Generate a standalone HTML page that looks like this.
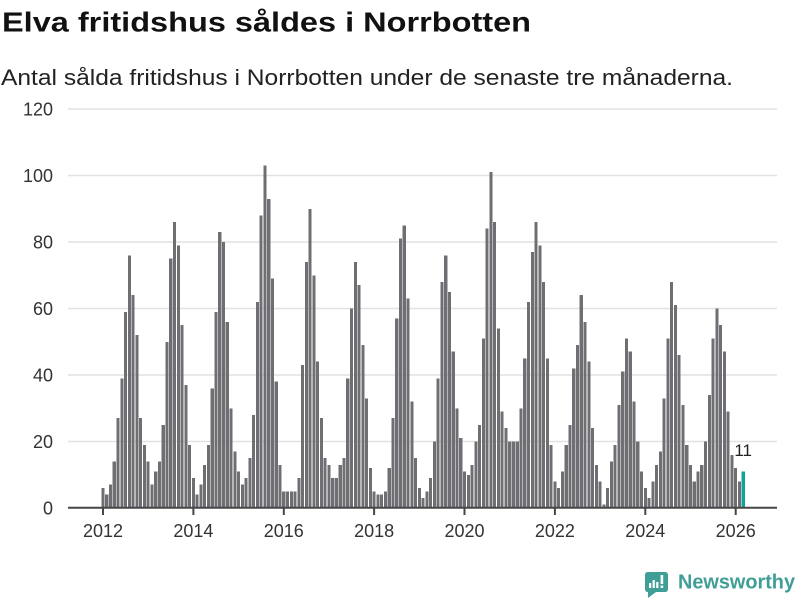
<!DOCTYPE html>
<html>
<head>
<meta charset="utf-8">
<style>
html,body{margin:0;padding:0;background:#fff;}
svg{display:block;}
text{font-family:"Liberation Sans",sans-serif;}
</style>
</head>
<body>
<svg width="800" height="600" viewBox="0 0 800 600" xmlns="http://www.w3.org/2000/svg">
<rect width="800" height="600" fill="#fff"/>
<text x="2" y="31.5" font-size="28" font-weight="bold" fill="#111" textLength="529" lengthAdjust="spacingAndGlyphs">Elva fritidshus såldes i Norrbotten</text>
<text x="1" y="85" font-size="22" fill="#222" textLength="732" lengthAdjust="spacingAndGlyphs">Antal sålda fritidshus i Norrbotten under de senaste tre månaderna.</text>

<!-- gridlines -->
<g stroke="#e2e2e2" stroke-width="1.6">
<line x1="68" x2="777" y1="109" y2="109"/>
<line x1="68" x2="777" y1="175.5" y2="175.5"/>
<line x1="68" x2="777" y1="242" y2="242"/>
<line x1="68" x2="777" y1="308.5" y2="308.5"/>
<line x1="68" x2="777" y1="375" y2="375"/>
<line x1="68" x2="777" y1="441.5" y2="441.5"/>
</g>
<g font-size="18" fill="#333" text-anchor="end">
<text x="53" y="115.5">120</text>
<text x="53" y="182">100</text>
<text x="53" y="248.5">80</text>
<text x="53" y="315">60</text>
<text x="53" y="381.5">40</text>
<text x="53" y="448">20</text>
<text x="53" y="514.5">0</text>
</g>

<!-- bars -->
<g transform="translate(101.45,508) scale(3.766,-3.325)" fill="#6f6e73" shape-rendering="crispEdges">
<rect x="0" width="0.823" height="6"/><rect x="1" width="0.823" height="4"/><rect x="2" width="0.823" height="7"/><rect x="3" width="0.823" height="14"/><rect x="4" width="0.823" height="27"/><rect x="5" width="0.823" height="39"/><rect x="6" width="0.823" height="59"/><rect x="7" width="0.823" height="76"/><rect x="8" width="0.823" height="64"/><rect x="9" width="0.823" height="52"/><rect x="10" width="0.823" height="27"/><rect x="11" width="0.823" height="19"/>
<rect x="12" width="0.823" height="14"/><rect x="13" width="0.823" height="7"/><rect x="14" width="0.823" height="11"/><rect x="15" width="0.823" height="14"/><rect x="16" width="0.823" height="25"/><rect x="17" width="0.823" height="50"/><rect x="18" width="0.823" height="75"/><rect x="19" width="0.823" height="86"/><rect x="20" width="0.823" height="79"/><rect x="21" width="0.823" height="55"/><rect x="22" width="0.823" height="37"/><rect x="23" width="0.823" height="19"/>
<rect x="24" width="0.823" height="9"/><rect x="25" width="0.823" height="4"/><rect x="26" width="0.823" height="7"/><rect x="27" width="0.823" height="13"/><rect x="28" width="0.823" height="19"/><rect x="29" width="0.823" height="36"/><rect x="30" width="0.823" height="59"/><rect x="31" width="0.823" height="83"/><rect x="32" width="0.823" height="80"/><rect x="33" width="0.823" height="56"/><rect x="34" width="0.823" height="30"/><rect x="35" width="0.823" height="17"/>
<rect x="36" width="0.823" height="11"/><rect x="37" width="0.823" height="7"/><rect x="38" width="0.823" height="9"/><rect x="39" width="0.823" height="15"/><rect x="40" width="0.823" height="28"/><rect x="41" width="0.823" height="62"/><rect x="42" width="0.823" height="88"/><rect x="43" width="0.823" height="103"/><rect x="44" width="0.823" height="93"/><rect x="45" width="0.823" height="69"/><rect x="46" width="0.823" height="38"/><rect x="47" width="0.823" height="13"/>
<rect x="48" width="0.823" height="5"/><rect x="49" width="0.823" height="5"/><rect x="50" width="0.823" height="5"/><rect x="51" width="0.823" height="5"/><rect x="52" width="0.823" height="9"/><rect x="53" width="0.823" height="43"/><rect x="54" width="0.823" height="74"/><rect x="55" width="0.823" height="90"/><rect x="56" width="0.823" height="70"/><rect x="57" width="0.823" height="44"/><rect x="58" width="0.823" height="27"/><rect x="59" width="0.823" height="15"/>
<rect x="60" width="0.823" height="13"/><rect x="61" width="0.823" height="9"/><rect x="62" width="0.823" height="9"/><rect x="63" width="0.823" height="13"/><rect x="64" width="0.823" height="15"/><rect x="65" width="0.823" height="39"/><rect x="66" width="0.823" height="60"/><rect x="67" width="0.823" height="74"/><rect x="68" width="0.823" height="67"/><rect x="69" width="0.823" height="49"/><rect x="70" width="0.823" height="33"/><rect x="71" width="0.823" height="12"/>
<rect x="72" width="0.823" height="5"/><rect x="73" width="0.823" height="4"/><rect x="74" width="0.823" height="4"/><rect x="75" width="0.823" height="5"/><rect x="76" width="0.823" height="12"/><rect x="77" width="0.823" height="27"/><rect x="78" width="0.823" height="57"/><rect x="79" width="0.823" height="81"/><rect x="80" width="0.823" height="85"/><rect x="81" width="0.823" height="63"/><rect x="82" width="0.823" height="32"/><rect x="83" width="0.823" height="15"/>
<rect x="84" width="0.823" height="6"/><rect x="85" width="0.823" height="3"/><rect x="86" width="0.823" height="5"/><rect x="87" width="0.823" height="9"/><rect x="88" width="0.823" height="20"/><rect x="89" width="0.823" height="39"/><rect x="90" width="0.823" height="68"/><rect x="91" width="0.823" height="76"/><rect x="92" width="0.823" height="65"/><rect x="93" width="0.823" height="47"/><rect x="94" width="0.823" height="30"/><rect x="95" width="0.823" height="21"/>
<rect x="96" width="0.823" height="11"/><rect x="97" width="0.823" height="10"/><rect x="98" width="0.823" height="13"/><rect x="99" width="0.823" height="20"/><rect x="100" width="0.823" height="25"/><rect x="101" width="0.823" height="51"/><rect x="102" width="0.823" height="84"/><rect x="103" width="0.823" height="101"/><rect x="104" width="0.823" height="86"/><rect x="105" width="0.823" height="54"/><rect x="106" width="0.823" height="29"/><rect x="107" width="0.823" height="24"/>
<rect x="108" width="0.823" height="20"/><rect x="109" width="0.823" height="20"/><rect x="110" width="0.823" height="20"/><rect x="111" width="0.823" height="30"/><rect x="112" width="0.823" height="45"/><rect x="113" width="0.823" height="62"/><rect x="114" width="0.823" height="77"/><rect x="115" width="0.823" height="86"/><rect x="116" width="0.823" height="79"/><rect x="117" width="0.823" height="68"/><rect x="118" width="0.823" height="45"/><rect x="119" width="0.823" height="19"/>
<rect x="120" width="0.823" height="8"/><rect x="121" width="0.823" height="6"/><rect x="122" width="0.823" height="11"/><rect x="123" width="0.823" height="19"/><rect x="124" width="0.823" height="25"/><rect x="125" width="0.823" height="42"/><rect x="126" width="0.823" height="49"/><rect x="127" width="0.823" height="64"/><rect x="128" width="0.823" height="56"/><rect x="129" width="0.823" height="44"/><rect x="130" width="0.823" height="24"/><rect x="131" width="0.823" height="13"/>
<rect x="132" width="0.823" height="8"/><rect x="133" width="0.823" height="1"/><rect x="134" width="0.823" height="6"/><rect x="135" width="0.823" height="14"/><rect x="136" width="0.823" height="19"/><rect x="137" width="0.823" height="31"/><rect x="138" width="0.823" height="41"/><rect x="139" width="0.823" height="51"/><rect x="140" width="0.823" height="47"/><rect x="141" width="0.823" height="32"/><rect x="142" width="0.823" height="20"/><rect x="143" width="0.823" height="11"/>
<rect x="144" width="0.823" height="6"/><rect x="145" width="0.823" height="3"/><rect x="146" width="0.823" height="8"/><rect x="147" width="0.823" height="13"/><rect x="148" width="0.823" height="17"/><rect x="149" width="0.823" height="33"/><rect x="150" width="0.823" height="51"/><rect x="151" width="0.823" height="68"/><rect x="152" width="0.823" height="61"/><rect x="153" width="0.823" height="46"/><rect x="154" width="0.823" height="31"/><rect x="155" width="0.823" height="19"/>
<rect x="156" width="0.823" height="13"/><rect x="157" width="0.823" height="8"/><rect x="158" width="0.823" height="11"/><rect x="159" width="0.823" height="13"/><rect x="160" width="0.823" height="20"/><rect x="161" width="0.823" height="34"/><rect x="162" width="0.823" height="51"/><rect x="163" width="0.823" height="60"/><rect x="164" width="0.823" height="55"/><rect x="165" width="0.823" height="47"/><rect x="166" width="0.823" height="29"/><rect x="167" width="0.823" height="16"/>
<rect x="168" width="0.823" height="12"/><rect x="169" width="0.823" height="8"/>
<rect x="170" width="0.823" height="11" fill="#0fa39a"/>
</g>

<!-- value label -->
<text x="743.2" y="456" font-size="17" fill="#222" text-anchor="middle" stroke="#fff" stroke-width="3" paint-order="stroke" stroke-linejoin="round">11</text>

<!-- axis -->
<line x1="68" x2="777" y1="507.7" y2="507.7" stroke="#474747" stroke-width="2"/>
<g stroke="#474747" stroke-width="2">
<line x1="103" x2="103" y1="507" y2="515"/>
<line x1="193.4" x2="193.4" y1="507" y2="515"/>
<line x1="283.8" x2="283.8" y1="507" y2="515"/>
<line x1="374.1" x2="374.1" y1="507" y2="515"/>
<line x1="464.5" x2="464.5" y1="507" y2="515"/>
<line x1="554.9" x2="554.9" y1="507" y2="515"/>
<line x1="645.3" x2="645.3" y1="507" y2="515"/>
<line x1="735.7" x2="735.7" y1="507" y2="515"/>
</g>
<g font-size="18" fill="#333" text-anchor="middle">
<text x="103" y="537">2012</text>
<text x="193.4" y="537">2014</text>
<text x="283.8" y="537">2016</text>
<text x="374.1" y="537">2018</text>
<text x="464.5" y="537">2020</text>
<text x="554.9" y="537">2022</text>
<text x="645.3" y="537">2024</text>
<text x="735.7" y="537">2026</text>
</g>

<!-- logo -->
<g>
<path d="M648 572 H665 Q668 572 668 575 V589 Q668 592 665 592 H656 L648 598 V592 Q645 592 645 589 V575 Q645 572 648 572 Z" fill="#3f9e96"/>
<rect x="649" y="583" width="2.2" height="5" fill="#fff"/>
<rect x="652.6" y="580" width="2.2" height="8" fill="#fff"/>
<rect x="656.2" y="582" width="2.2" height="6" fill="#fff"/>
<rect x="660.6" y="575" width="2.6" height="9" fill="#fff"/>
<rect x="660.6" y="585.5" width="2.6" height="2.5" fill="#fff"/>
<text x="678" y="588.5" font-size="20" font-weight="bold" fill="#3f9e96" textLength="117" lengthAdjust="spacingAndGlyphs">Newsworthy</text>
</g>
</svg>
</body>
</html>
